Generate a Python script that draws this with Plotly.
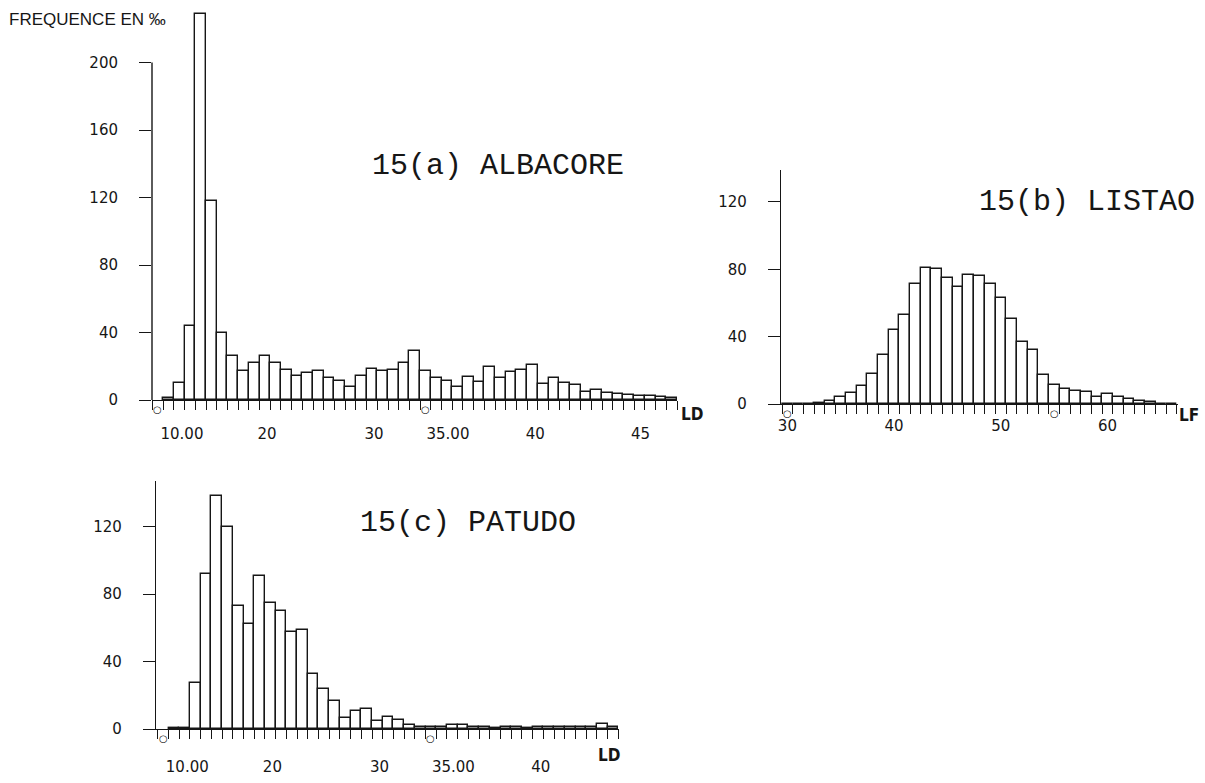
import plotly.graph_objects as go

W, H = 1205, 783
INK = "#161616"

# --- 15(a) ALBACORE : classes (position on the LD axis) and frequency in per mille
alb_classes = list(range(11, 59))
alb_freq = [1, 10, 44, 229, 118, 39.5, 26, 17, 22, 26,
            22, 18, 14, 16, 17, 13, 11, 7.5, 14, 18.5,
            17, 18, 22, 29, 17, 13, 11, 8, 13.5, 10.5,
            19.5, 12.8, 16.5, 17.8, 20.7, 9.7, 12.8, 10, 8.7, 5,
            5.7, 4, 3.4, 3, 2.4, 2.4, 1.8, 1.4]

# --- 15(b) LISTAO : LF classes
lis_classes = list(range(30, 67))
lis_freq = [0, 0, 0, 0.5, 1.5, 4.2, 6.5, 10.8, 18, 29,
            44, 53, 71, 80.5, 80, 75, 69.5, 76.5, 76, 71,
            63, 50.5, 37, 32, 17.5, 11, 9, 7.5, 7, 4.3,
            6, 4.2, 3, 2, 1.2, 0, 0]

# --- 15(c) PATUDO
pat_classes = list(range(11, 53))
pat_freq = [0.4, 0.6, 27, 92, 138, 120, 73, 62, 90.5, 74.5,
            70, 57.5, 58.5, 32.8, 23.8, 16.8, 6.5, 10.5, 11.9, 4.5,
            6.9, 5.5, 2.6, 1.2, 1, 1, 2.2, 2.2, 1, 1,
            0.8, 1, 1, 0.8, 1, 1, 1, 1, 1, 1.2,
            3, 1.3]

# tick labels of the LD axes (a) and (c), LF axis (b)
ld_tick_pos = [12.25, 20.2, 30.2, 37.1, 45.25, 55.1]
ld_tick_text = ["10.00", "20", "30", "35.00", "40", "45"]
lf_tick_pos = [30, 40, 50, 60]
lf_tick_text = ["30", "40", "50", "60"]
ld_marks = [10, 35]
lf_marks = [30, 55]

y_ticks_a = [0, 40, 80, 120, 160, 200]
y_ticks_bc = [0, 40, 80, 120]
y_top_a = 200   # the drawn axis of (a) stops here, the 14 cm bar goes past it


def fx(px):
    return px / W


def fy(py):
    return 1 - py / H


fig = go.Figure()

bar_style = dict(marker=dict(color="white", line=dict(color=INK, width=1.4)),
                 width=1, showlegend=False, hoverinfo="x+y")

fig.add_trace(go.Bar(x=alb_classes, y=alb_freq, xaxis="x", yaxis="y", **bar_style))
fig.add_trace(go.Bar(x=lis_classes, y=lis_freq, xaxis="x2", yaxis="y2", **bar_style))
fig.add_trace(go.Bar(x=pat_classes, y=pat_freq, xaxis="x3", yaxis="y3", **bar_style))

tick_font = dict(family="DejaVu Sans", size=15, color=INK)


def x_axis(dom, rng, tv, tt, standoff, anchor):
    return dict(domain=dom, range=rng, anchor=anchor, showline=True, linecolor=INK,
                linewidth=1.4, showgrid=False, zeroline=False, ticks="", tickmode="array",
                tickvals=tv, ticktext=tt, tickfont=tick_font, ticklabelstandoff=standoff,
                minor=dict(ticks="outside", tickmode="linear", tick0=0.5, dtick=1,
                           ticklen=9, tickwidth=1.2, tickcolor=INK),
                automargin=False, fixedrange=True)


def y_axis(dom, rng, tv, anchor, line=True):
    return dict(domain=dom, range=rng, anchor=anchor, showline=line, linecolor=INK,
                linewidth=1.4, showgrid=False, zeroline=False, ticks="outside",
                ticklen=12, tickwidth=1.3, tickcolor=INK, tickmode="array",
                tickvals=tv, ticktext=[str(v) for v in tv], tickfont=tick_font,
                ticklabelstandoff=18, automargin=False, fixedrange=True)


# (a): 40 units = 67.5 px ; baseline at 400 px, value 200 at 62.5 px, top of range at 8 px
px_per_unit = 67.5 / 40
a_top_val = (400 - 8) / px_per_unit

fig.update_layout(
    width=W, height=H,
    margin=dict(l=0, r=0, t=0, b=0, pad=0, autoexpand=False),
    paper_bgcolor="white", plot_bgcolor="rgba(0,0,0,0)",
    bargap=0, barmode="overlay",
    xaxis=x_axis([fx(152), fx(677)], [9.45, 58.5], ld_tick_pos, ld_tick_text, 20, "y"),
    yaxis=y_axis([fy(400), fy(8)], [0, a_top_val], y_ticks_a, "x", line=False),
    xaxis2=x_axis([fx(781), fx(1178)], [29.4, 66.6], lf_tick_pos, lf_tick_text, 8, "y2"),
    yaxis2=y_axis([fy(404), fy(170)], [0, 139], y_ticks_bc, "x2"),
    xaxis3=x_axis([fx(156), fx(619)], [9.33, 52.56], ld_tick_pos, ld_tick_text, 24, "y3"),
    yaxis3=y_axis([fy(729), fy(481)], [0, 147], y_ticks_bc, "x3"),
    shapes=[dict(type="line", xref="x domain", yref="y", x0=0, x1=0, y0=0, y1=y_top_a,
                 line=dict(color=INK, width=1.4))],
)

title_font = dict(family="Liberation Mono", size=30, color=INK)
label_font = dict(family="DejaVu Sans Condensed, DejaVu Sans", size=17, color=INK, weight="bold")

annotations = [
    dict(text="FREQUENCE EN ‰", x=fx(7), y=fy(20), xanchor="left", yanchor="middle",
         font=dict(family="Liberation Sans", size=17, color=INK)),
    dict(text="15(a) ALBACORE", x=fx(370), y=fy(166), xanchor="left", yanchor="middle",
         font=title_font),
    dict(text="15(b) LISTAO", x=fx(977), y=fy(202), xanchor="left", yanchor="middle",
         font=title_font),
    dict(text="15(c) PATUDO", x=fx(358), y=fy(523), xanchor="left", yanchor="middle",
         font=title_font),
    dict(text="LD", x=fx(692), y=fy(414), xanchor="center", yanchor="middle", font=label_font),
    dict(text="LF", x=fx(1189), y=fy(415), xanchor="center", yanchor="middle", font=label_font),
    dict(text="LD", x=fx(609), y=fy(755), xanchor="center", yanchor="middle", font=label_font),
]
for a in annotations:
    a.update(xref="paper", yref="paper", showarrow=False)

# little class-limit markers hanging below the baseline
mark_font = dict(family="DejaVu Sans", size=10, color=INK)
for xr, yr, marks in [("x", "y", ld_marks), ("x2", "y2", lf_marks), ("x3", "y3", ld_marks)]:
    for m in marks:
        annotations.append(dict(text="○", x=m, y=0, xref=xr, yref=yr, yshift=-9,
                                xanchor="center", yanchor="middle", showarrow=False,
                                font=mark_font))

fig.update_layout(annotations=annotations)

fig.write_html("out.html", config={"displayModeBar": False, "responsive": False},
               post_script="document.body.style.margin='0';document.body.style.overflow='hidden';")
